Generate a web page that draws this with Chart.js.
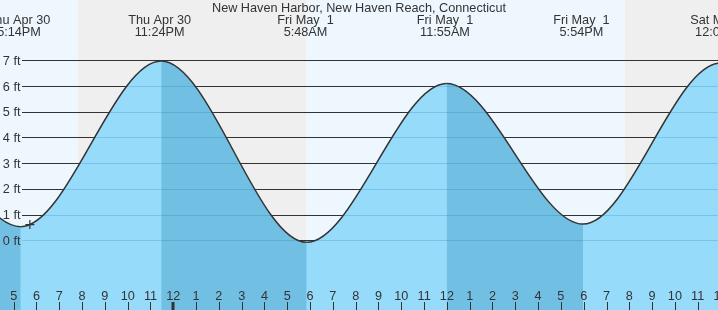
<!DOCTYPE html>
<html>
<head>
<meta charset="utf-8">
<title>New Haven Harbor tide chart</title>
<script src="https://cdn.jsdelivr.net/npm/chart.js@4.4.1/dist/chart.umd.min.js"></script>
<style>
html,body{margin:0;padding:0;background:#ffffff;overflow:hidden;}
canvas{display:block;}
</style>
</head>
<body>
<canvas id="tide" width="718" height="310"></canvas>
<script>
const chartTitle = 'New Haven Harbor, New Haven Reach, Connecticut';

// successive high / low waters as drawn (hours counted from Thu Apr 30, 00:00; feet)
// first and last entries lie outside the visible window (estimated)
const curveHours = [4.9, 11.11, 17.31, 23.47, 29.85, 35.99, 41.97, 48.0, 54.2];
const curveFeet  = [0.3, 6.17, 0.53, 6.97, -0.08, 6.1, 0.63, 6.89, 0.2];

// high / low tide table labels
const extremeHours = [17.233, 23.4, 29.8, 35.917, 41.9, 48.0];
const extremeDates = ['Thu Apr 30', 'Thu Apr 30', 'Fri May  1', 'Fri May  1', 'Fri May  1', 'Sat May  2'];
const extremeTimes = ['5:14PM', '11:24PM', '5:48AM', '11:55AM', '5:54PM', '12:00AM'];

// night (sunset -> sunrise)
const nightStart = [19.82, 43.81];
const nightEnd   = [29.82, 53.8];

// axis ticks
const footTicks  = [0, 1, 2, 3, 4, 5, 6, 7];
const footLabels = ['0 ft', '1 ft', '2 ft', '3 ft', '4 ft', '5 ft', '6 ft', '7 ft'];
const hourTicks  = [17, 18, 19, 20, 21, 22, 23, 24, 25, 26, 27, 28, 29, 30, 31, 32,
                    33, 34, 35, 36, 37, 38, 39, 40, 41, 42, 43, 44, 45, 46, 47, 48];
const hourLabels = ['5', '6', '7', '8', '9', '10', '11', '12', '1', '2', '3', '4', '5', '6', '7', '8',
                    '9', '10', '11', '12', '1', '2', '3', '4', '5', '6', '7', '8', '9', '10', '11', '12'];
const midnightTicks = [24, 48];

// current time marker
const nowHour = [17.71];
const nowFeet = [0.61];

const xRange = [16.40, 47.89];
const yRange = [-2.711, 9.347];

// styles
const DAY_BG = '#eef7fe';
const NIGHT_BG = '#efefef';
const FLOOD = '#97dbfb';
const EBB = '#72bfe4';
const GRID = '#333333';
const WATER_GRID = 'rgba(0,105,165,0.2)';
const TEXT = '#333333';
const FONT = '12.7px "Liberation Sans", Arial, sans-serif';
const GRID_LEFT = 22;

function waterPath(chart, meta) {
  const {ctx, chartArea: a} = chart;
  meta.dataset.updateControlPoints(a, 'x');
  const pts = meta.data;
  ctx.beginPath();
  ctx.moveTo(pts[0].x, a.bottom);
  ctx.lineTo(pts[0].x, pts[0].y);
  for (let i = 1; i < pts.length; i++) {
    const p = pts[i - 1], q = pts[i];
    ctx.bezierCurveTo(p.cp2x, p.cp2y, q.cp1x, q.cp1y, q.x, q.y);
  }
  ctx.lineTo(pts[pts.length - 1].x, a.bottom);
  ctx.closePath();
}

function gridLines(chart, color) {
  const {ctx, chartArea: a, scales: {y}} = chart;
  ctx.strokeStyle = color;
  ctx.lineWidth = 1;
  footTicks.forEach(v => {
    const py = Math.round(y.getPixelForValue(v)) + 0.5;
    ctx.beginPath();
    ctx.moveTo(GRID_LEFT, py);
    ctx.lineTo(a.right, py);
    ctx.stroke();
  });
}

const tidePlugin = {
  id: 'tideDecor',
  beforeDraw(chart) {
    const {ctx, chartArea: a, scales: {x}} = chart;
    ctx.save();
    ctx.fillStyle = DAY_BG;
    ctx.fillRect(a.left, a.top, a.width, a.height);
    ctx.fillStyle = NIGHT_BG;
    nightStart.forEach((s, i) => {
      const x0 = Math.round(x.getPixelForValue(s));
      const x1 = Math.round(x.getPixelForValue(nightEnd[i]));
      ctx.fillRect(x0, a.top, x1 - x0, a.height);
    });
    ctx.restore();
  },
  beforeDatasetsDraw(chart) {
    const {ctx, chartArea: a} = chart;
    ctx.save();
    gridLines(chart, GRID);
    // solid underlay so that the flood/ebb segment fills show no seams
    ctx.beginPath();
    ctx.rect(a.left, a.top, a.width, a.height);
    ctx.clip();
    waterPath(chart, chart.getDatasetMeta(0));
    ctx.fillStyle = FLOOD;
    ctx.fill();
    ctx.restore();
  },
  beforeDatasetDraw(chart, args) {
    if (args.index !== 0) return;
    const {ctx} = chart;
    ctx.save();
    waterPath(chart, args.meta);
    ctx.clip();
    gridLines(chart, WATER_GRID);
    ctx.restore();
  },
  afterDatasetsDraw(chart) {
    const {ctx, chartArea: a, scales: {x, y}} = chart;
    ctx.save();
    ctx.font = FONT;
    ctx.fillStyle = TEXT;
    ctx.textBaseline = 'alphabetic';

    // y labels
    ctx.textAlign = 'right';
    footTicks.forEach((v, i) => {
      const py = y.getPixelForValue(v);
      ctx.fillText(footLabels[i], 20.5, py + 4.6);
    });

    // hour labels and ticks
    ctx.textAlign = 'center';
    ctx.strokeStyle = GRID;
    hourTicks.forEach((h, i) => {
      const px = x.getPixelForValue(h);
      ctx.fillText(hourLabels[i], px, 300);
      const thick = midnightTicks.includes(h);
      ctx.lineWidth = thick ? 3 : 1;
      const lx = thick ? Math.round(px) : Math.round(px) + 0.5;
      ctx.beginPath();
      ctx.moveTo(lx, 302);
      ctx.lineTo(lx, a.bottom);
      ctx.stroke();
    });

    // tide extreme labels
    extremeHours.forEach((h, i) => {
      const px = x.getPixelForValue(h);
      ctx.fillText(extremeDates[i], px, 24.2);
      ctx.fillText(extremeTimes[i], px, 36.4);
    });

    // title
    ctx.fillText(chartTitle, 359, 12.2);
    ctx.restore();
  }
};

new Chart(document.getElementById('tide'), {
  type: 'line',
  data: {
    datasets: [
      {
        data: curveHours.map((h, i) => ({x: h, y: curveFeet[i]})),
        borderColor: '#333333',
        borderWidth: 1.5,
        pointRadius: 0,
        fill: 'start',
        backgroundColor: FLOOD,
        cubicInterpolationMode: 'monotone',
        capBezierPoints: false,
        segment: {
          backgroundColor: c => (c.p1.y <= c.p0.y ? FLOOD : EBB)
        },
        order: 1
      },
      {
        data: nowHour.map((h, i) => ({x: h, y: nowFeet[i]})),
        showLine: false,
        fill: false,
        pointStyle: 'cross',
        pointRadius: 4.5,
        pointBorderWidth: 1.2,
        pointBorderColor: '#333333',
        borderColor: '#333333',
        order: 0
      }
    ]
  },
  options: {
    responsive: false,
    animation: false,
    devicePixelRatio: 1,
    events: [],
    layout: {padding: 0, autoPadding: false},
    scales: {
      x: {type: 'linear', min: xRange[0], max: xRange[1], display: false},
      y: {type: 'linear', min: yRange[0], max: yRange[1], display: false}
    },
    plugins: {
      legend: {display: false},
      tooltip: {enabled: false},
      title: {display: false}
    }
  },
  plugins: [tidePlugin]
});
</script>
</body>
</html>
